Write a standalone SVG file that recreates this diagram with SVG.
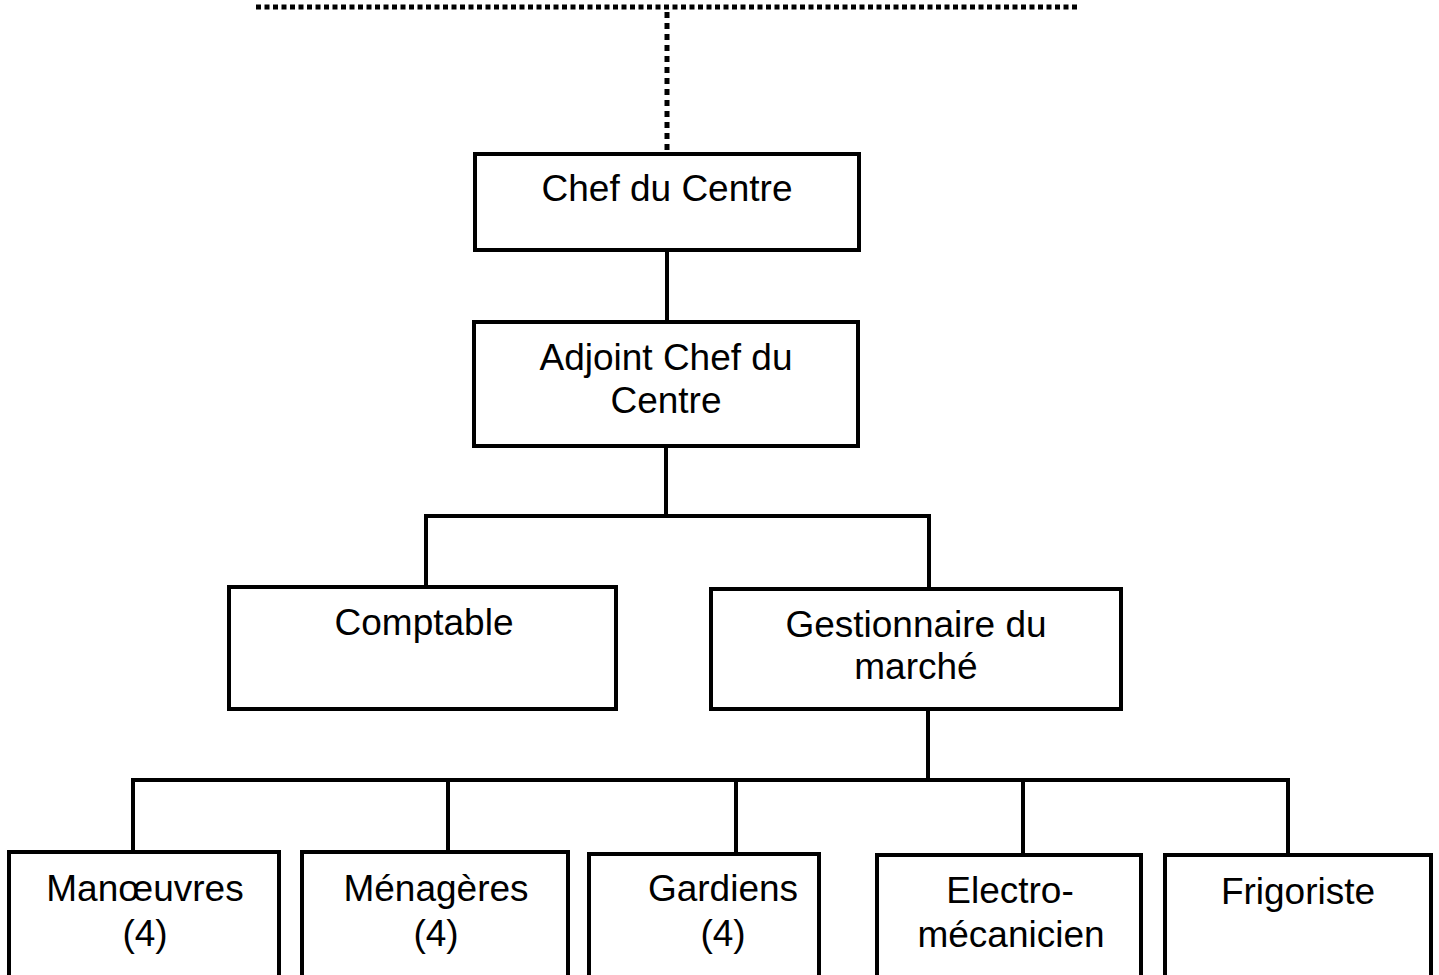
<svg xmlns="http://www.w3.org/2000/svg" width="1439" height="975" viewBox="0 0 1439 975">
<style>
.box{fill:#fff;stroke:#000;stroke-width:4}
.ln{fill:none;stroke:#000;stroke-width:4}
.dot{fill:none;stroke:#000;stroke-width:5;stroke-dasharray:5 3.5}
.dotv{fill:none;stroke:#000;stroke-width:5;stroke-dasharray:6 5}
text{font-family:"Liberation Sans",Arial,sans-serif;font-size:37px;fill:#000;text-anchor:middle}
</style>
<rect width="1439" height="975" fill="#fff"/>
<g id="connectors">
<path class="dot" d="M256 7 H1078"/>
<path class="dotv" d="M667 12 V152"/>
<path class="ln" d="M667 250 V322"/>
<path class="ln" d="M666 446 V516 M426 516 H930 M426 514 V587 M929 514 V589"/>
<path class="ln" d="M928 709 V780 M133 780 H1290 M133 778 V852 M448 778 V852 M736 778 V854 M1023 778 V855 M1288 778 V855"/>
</g>
<g id="chef"><rect class="box" x="475" y="154" width="384" height="96"/><text x="667" y="201">Chef du Centre</text></g>
<g id="adjoint"><rect class="box" x="474" y="322" width="384" height="124"/><text x="666" y="370">Adjoint Chef du</text><text x="666" y="413">Centre</text></g>
<g id="comptable"><rect class="box" x="229" y="587" width="387" height="122"/><text x="424" y="635">Comptable</text></g>
<g id="gestionnaire"><rect class="box" x="711" y="589" width="410" height="120"/><text x="916" y="637">Gestionnaire du</text><text x="916" y="679">marché</text></g>
<g id="manoeuvres"><rect class="box" x="9" y="852" width="270" height="130"/><text x="145" y="901">Manœuvres</text><text x="145" y="946">(4)</text></g>
<g id="menageres"><rect class="box" x="302" y="852" width="266" height="130"/><text x="436" y="901">Ménagères</text><text x="436" y="946">(4)</text></g>
<g id="gardiens"><rect class="box" x="589" y="854" width="230" height="128"/><text x="723" y="901">Gardiens</text><text x="723" y="946">(4)</text></g>
<g id="electro"><rect class="box" x="877" y="855" width="264" height="127"/><text x="1010" y="903">Electro-</text><text x="1011" y="947">mécanicien</text></g>
<g id="frigoriste"><rect class="box" x="1165" y="855" width="266" height="127"/><text x="1298" y="904">Frigoriste</text></g>
</svg>
